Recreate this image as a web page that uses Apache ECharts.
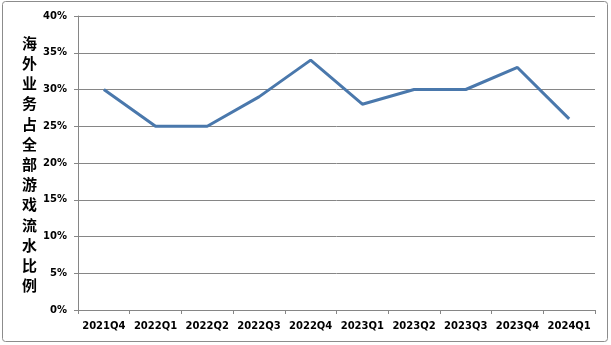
<!DOCTYPE html>
<html><head><meta charset="utf-8">
<script src="https://cdn.jsdelivr.net/npm/echarts@6/dist/echarts.min.js"></script>
<style>html,body{margin:0;padding:0;background:#fff}#c{width:611px;height:345px}</style>
</head><body><div id="c"></div>
<script>
const categories = ['2021Q4','2022Q1','2022Q2','2022Q3','2022Q4','2023Q1','2023Q2','2023Q3','2023Q4','2024Q1'];
const shareValues = [30, 25, 25, 29, 34, 28, 30, 30, 33, 26];
const yTitle = '海外业务占全部游戏流水比例';
const chart = echarts.init(document.getElementById('c'), null, {renderer:'canvas'});
chart.setOption({
  animation:false,
  grid:{left:78,right:16,top:16,bottom:35},
  graphic:[
    {type:'rect',shape:{x:2.5,y:1.5,width:605,height:340,r:3},style:{fill:'none',stroke:'#8c8c8c',lineWidth:1}},
    {type:'text',left:22,top:33,style:{text:yTitle.split('').join('\n'),font:'bold 15px "Noto Sans CJK SC"',lineHeight:20.2,fill:'#000',align:'center'}}
  ],
  xAxis:{type:'category',data:categories,boundaryGap:true,
    axisLine:{lineStyle:{color:'#868686',width:1}},
    axisTick:{show:true,length:4,lineStyle:{color:'#868686'}},
    axisLabel:{color:'#000',fontFamily:'DejaVu Sans',fontWeight:'bold',fontSize:10,margin:11,interval:0}},
  yAxis:{type:'value',min:0,max:40,interval:5,
    axisLine:{show:true,lineStyle:{color:'#868686',width:1}},
    axisTick:{show:true,length:4,lineStyle:{color:'#868686'}},
    splitLine:{lineStyle:{color:'#868686',width:1}},
    axisLabel:{formatter:'{value}%',color:'#000',fontFamily:'DejaVu Sans',fontWeight:'bold',fontSize:10,margin:11}},
  series:[{type:'line',data:shareValues,symbol:'none',lineStyle:{color:'#4A78AC',width:3}}]
});
</script></body></html>
